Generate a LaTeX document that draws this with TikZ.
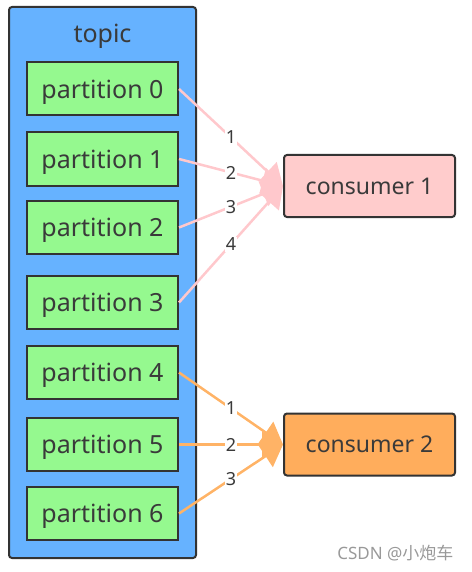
\documentclass[tikz,border=0pt]{standalone}
\usepackage{fontspec}
\setmainfont{Noto Sans}
\newfontfamily\cjk{Noto Sans CJK SC}
\usetikzlibrary{arrows.meta}
\definecolor{topicblue}{HTML}{66B2FF}
\definecolor{partgreen}{HTML}{95F98F}
\definecolor{conspink}{HTML}{FFCCCC}
\definecolor{consorange}{HTML}{FFAD5C}
\definecolor{edgegray}{HTML}{333333}
\definecolor{txtgray}{HTML}{3A3A3A}
\definecolor{linkpink}{HTML}{FFC8CC}
\definecolor{linkorange}{HTML}{FFB366}
\tikzset{
  topicbox/.style={draw=edgegray, line width=2pt, fill=topicblue, rounded corners=3pt},
  partbox/.style={draw=edgegray, line width=2pt, fill=partgreen, minimum width=151pt, minimum height=53pt, inner sep=0pt, text depth=0pt, font=\fontsize{25}{28}\selectfont, text=txtgray},
  consbox/.style={draw=edgegray, line width=2pt, rounded corners=3pt, minimum width=171pt, minimum height=62pt, inner sep=0pt, font=\fontsize{23}{26}\selectfont, text=txtgray},
  link/.style={line width=2.5pt, -{Triangle[length=21pt,width=26pt]}},
  lbl/.style={fill=white, inner sep=1pt, font=\fontsize{18}{20}\selectfont, text=txtgray}
}
\begin{document}
\begin{tikzpicture}[x=1pt,y=-1pt]
\useasboundingbox (0,0) rectangle (471,572);
\node[topicbox, minimum width=187pt, minimum height=551pt, inner sep=0pt] (topic) at (102.5,282.5) {};
\node[font=\fontsize{25}{28}\selectfont, text=txtgray, text depth=0pt] (topiclbl) at (102.5,33) {topic};
\node[partbox] (p0) at (102.5,89) {partition 0};
\node[partbox] (p1) at (102.5,159) {partition 1};
\node[partbox] (p2) at (102.5,227.5) {partition 2};
\node[partbox] (p3) at (102.5,302.5) {partition 3};
\node[partbox] (p4) at (102.5,372.5) {partition 4};
\node[partbox] (p5) at (102.5,444.5) {partition 5};
\node[partbox] (p6) at (102.5,513.5) {partition 6};
\node[consbox, fill=conspink] (c1) at (369.5,186) {consumer 1};
\node[consbox, fill=consorange] (c2) at (369.5,444.5) {consumer 2};
\draw[link, draw=linkpink, fill=linkpink] (p0.east) -- node[lbl]{1} (c1.west);
\draw[link, draw=linkpink, fill=linkpink] (p1.east) -- node[lbl]{2} (c1.west);
\draw[link, draw=linkpink, fill=linkpink] (p2.east) -- node[lbl]{3} (c1.west);
\draw[link, draw=linkpink, fill=linkpink] (p3.east) -- node[lbl]{4} (c1.west);
\draw[link, draw=linkorange, fill=linkorange] (p4.east) -- node[lbl]{1} (c2.west);
\draw[link, draw=linkorange, fill=linkorange] (p5.east) -- node[lbl]{2} (c2.west);
\draw[link, draw=linkorange, fill=linkorange] (p6.east) -- node[lbl]{3} (c2.west);
\node[font=\fontsize{17}{19}\selectfont, text=gray!80, anchor=east] (wm) at (457,553) {CSDN @{\cjk 小炮车}};
\end{tikzpicture}
\end{document}
